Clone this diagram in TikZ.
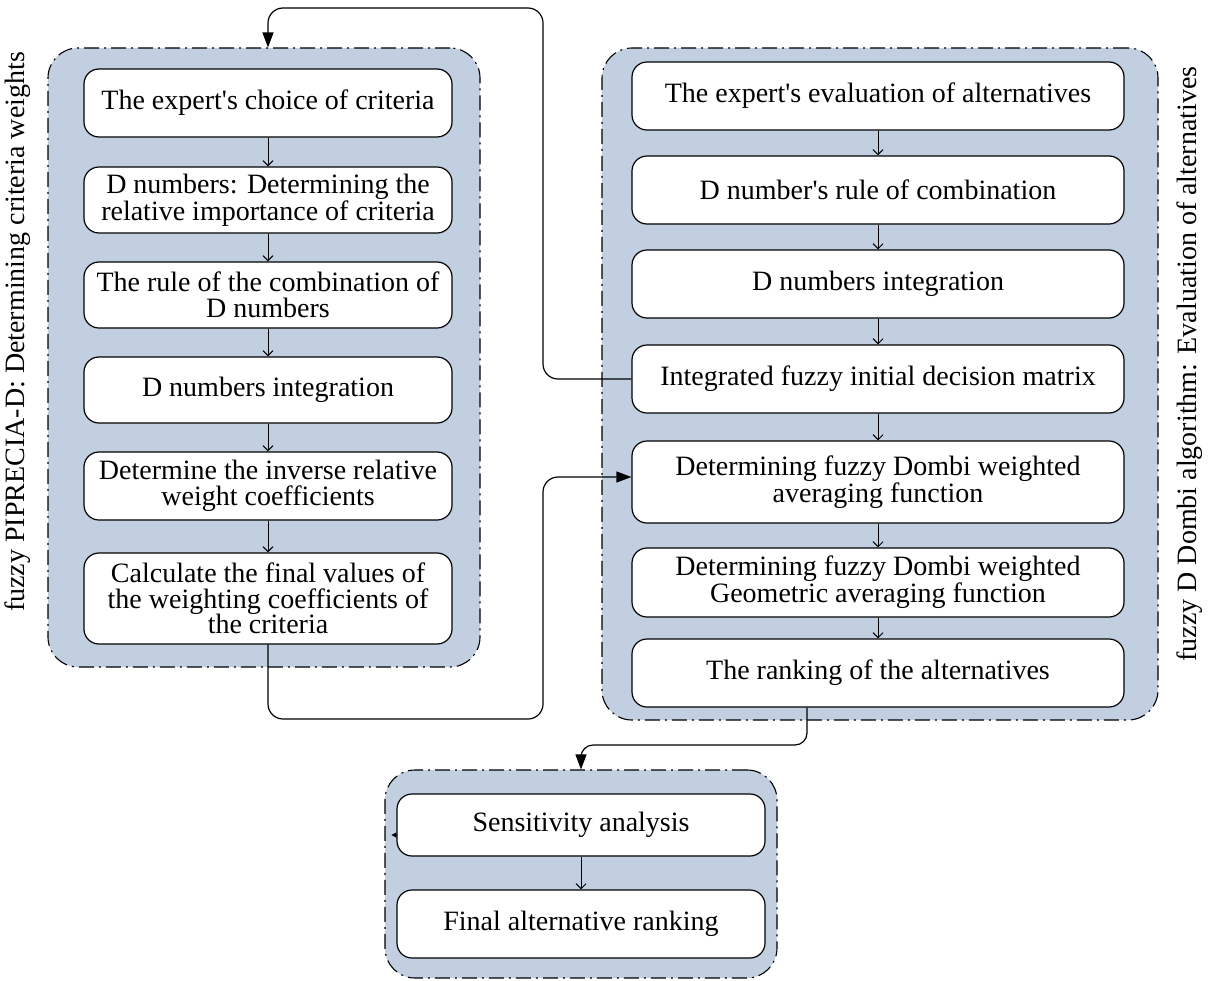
\documentclass[tikz,border=0pt]{standalone}
\usepackage{fontspec}
\setmainfont{Liberation Serif}
\usetikzlibrary{arrows.meta,calc}
\definecolor{panelblue}{RGB}{193,207,224}
\newcommand{\apo}{\textquotesingle}
\tikzset{
  panel/.style={draw=black, fill=panelblue, line width=1.1pt, rounded corners=30pt,
    dash pattern=on 15pt off 5pt on 2pt off 5pt, inner sep=0pt},
  stepbox/.style={draw=black, fill=white, line width=1.2pt, rounded corners=15pt,
    align=center, inner sep=2pt, font=\fontsize{28}{25.5}\selectfont},
  lbox/.style={stepbox, minimum width=368pt},
  rbox/.style={stepbox, minimum width=492pt},
  flow/.style={line width=1pt, -{Straight Barb[length=5pt,width=10pt]}},
  link/.style={line width=1.2pt, rounded corners=15pt, -{Triangle[length=15pt,width=11pt]}},
  sidelabel/.style={rotate=90, font=\fontsize{28}{25}\selectfont}
}
\begin{document}
\begin{tikzpicture}[x=1pt,y=-1pt]
\useasboundingbox (0,0) rectangle (1210,980);
% panels
\node[panel, minimum width=432pt, minimum height=619pt] (Lpanel) at (264,357.5) {};
\node[panel, minimum width=556pt, minimum height=672pt] (Rpanel) at (880,384) {};
\node[panel, minimum width=392pt, minimum height=208pt] (Bpanel) at (581,874) {};
% left boxes
\node[lbox, minimum height=68pt] (L1) at (268,103) {The expert\apo s choice of criteria};
\node[lbox, minimum height=66pt] (L2) at (268,200) {D numbers: Determining the\\relative importance of criteria};
\node[lbox, minimum height=66pt] (L3) at (268,295) {The rule of the combination of\\D numbers};
\node[lbox, minimum height=66pt] (L4) at (268,390) {D numbers integration};
\node[lbox, minimum height=68pt] (L5) at (268,486) {Determine the inverse relative\\weight coefficients};
\node[lbox, minimum height=91pt] (L6) at (268,598.5) {Calculate the final values of\\the weighting coefficients of\\the criteria};
% right boxes
\node[rbox, minimum height=68pt] (R1) at (878,96) {The expert\apo s evaluation of alternatives};
\node[rbox, minimum height=68pt] (R2) at (878,190) {D number\apo s rule of combination};
\node[rbox, minimum height=68pt] (R3) at (878,284) {D numbers integration};
\node[rbox, minimum height=68pt] (R4) at (878,379) {Integrated fuzzy initial decision matrix};
\node[rbox, minimum height=82pt] (R5) at (878,482) {Determining fuzzy Dombi weighted\\averaging function};
\node[rbox, minimum height=69pt] (R6) at (878,582.5) {Determining fuzzy Dombi weighted\\Geometric averaging function};
\node[rbox, minimum height=68pt] (R7) at (878,673) {The ranking of the alternatives};
% bottom boxes
\node[lbox, minimum height=62pt] (B1) at (581,825) {Sensitivity analysis};
\node[lbox, minimum height=68pt] (B2) at (581,924) {Final alternative ranking};
% side labels
\node[sidelabel] (labL) at (18,332) {fuzzy PIPRECIA-D: Determining criteria weights};
\node[sidelabel] (labR) at (1190,364) {fuzzy D Dombi algorithm: Evaluation of alternatives};
% flows inside panels
\foreach \a/\b in {L1/L2,L2/L3,L3/L4,L4/L5,L5/L6,R1/R2,R2/R3,R3/R4,R4/R5,R5/R6,R6/R7,B1/B2}
  \draw[flow] (\a.south) -- (\b.north);
% links between panels
\coordinate (topturn) at (543,8);
\coordinate (midturn) at (543,719);
\coordinate (botturn) at (807,745);
\draw[link] (R4.west) -| (topturn) -| (L1.north |- Lpanel.north);
\draw[link] (L6.south) |- (midturn) |- ([yshift=5pt]R5.west);
\draw[link, rounded corners=12pt] (R7.south -| botturn) -- (botturn) -| (B1.north |- Bpanel.north);
\draw[line width=0.8pt, -{Triangle[length=5pt,width=5pt]}] ([yshift=-10pt]B1.west) -- ++(-5,0);
\end{tikzpicture}
\end{document}
